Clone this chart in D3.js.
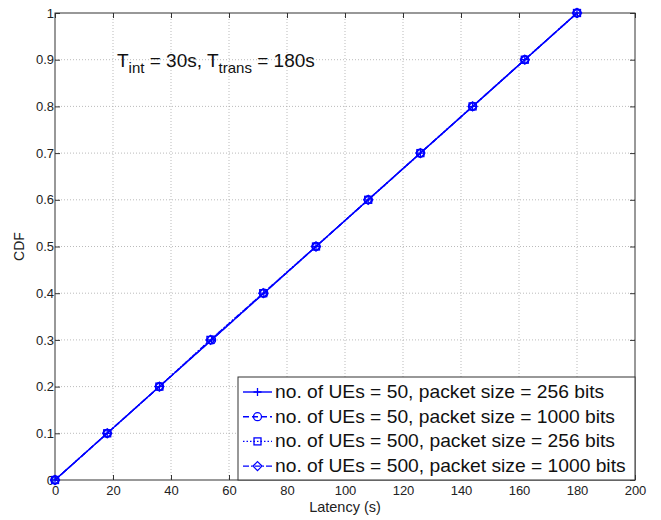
<!DOCTYPE html>
<html>
<head>
<meta charset="utf-8">
<script src="https://cdn.jsdelivr.net/npm/d3@7"></script>
<style>
body { margin: 0; background: #fff; }
text { font-family: Arial, "Liberation Sans", sans-serif; }
</style>
</head>
<body>
<svg id="chart" width="661" height="520"></svg>
<script>
// latency (s), one list per series
var latency50_256 = [0, 18, 36, 54, 72, 90, 108, 126, 144, 162, 180];
var latency50_1000 = [0, 18, 36, 54, 72, 90, 108, 126, 144, 162, 180];
var latency500_256 = [0, 18, 36, 53.6, 71.8, 90, 108, 126, 144, 162, 180];
var latency500_1000 = [0, 18, 36, 53.6, 71.8, 90, 108, 126, 144, 162, 180];
var cdf = [0, 0.1, 0.2, 0.3, 0.4, 0.5, 0.6, 0.7, 0.8, 0.9, 1];

var seriesNames = [
	"no. of UEs = 50, packet size = 256 bits",
	"no. of UEs = 50, packet size = 1000 bits",
	"no. of UEs = 500, packet size = 256 bits",
	"no. of UEs = 500, packet size = 1000 bits"
];
var xTicks = [0, 20, 40, 60, 80, 100, 120, 140, 160, 180, 200];
var yTicks = [0, 0.1, 0.2, 0.3, 0.4, 0.5, 0.6, 0.7, 0.8, 0.9, 1];

var blue = "#0000ff";
var dashes = [null, "6,3", "1.5,2", "6,2,1.5,2"];
var markers = ["plus", "circle", "square", "diamond"];

var svg = d3.select("#chart");
var plotL = 55, plotR = 635, plotT = 13, plotB = 480;

var x = d3.scaleLinear().domain([0, 200]).range([plotL, plotR]);
var y = d3.scaleLinear().domain([0, 1]).range([plotB, plotT]);

// grid
var grid = svg.append("g");
grid.selectAll("line.gx")
	.data(xTicks.slice(1, -1))
	.enter().append("line")
	.attr("x1", function(d) { return x(d); })
	.attr("x2", function(d) { return x(d); })
	.attr("y1", plotT).attr("y2", plotB)
	.style("stroke", "#aaa").style("stroke-width", 0.8)
	.style("stroke-dasharray", "1,2");
grid.selectAll("line.gy")
	.data(yTicks.slice(1, -1))
	.enter().append("line")
	.attr("y1", function(d) { return y(d); })
	.attr("y2", function(d) { return y(d); })
	.attr("x1", plotL).attr("x2", plotR)
	.style("stroke", "#aaa").style("stroke-width", 0.8)
	.style("stroke-dasharray", "1,2");

// axes with inward ticks
var fmt = function(d) { return d3.format("")(d); };
var xAxis = svg.append("g").attr("transform", "translate(0," + plotB + ")")
	.call(d3.axisBottom(x).tickValues(xTicks).tickSize(-5).tickPadding(4).tickFormat(fmt));
var xAxisTop = svg.append("g").attr("transform", "translate(0," + plotT + ")")
	.call(d3.axisTop(x).tickValues(xTicks).tickSize(-5).tickFormat(""));
var yAxis = svg.append("g").attr("transform", "translate(" + plotL + ",0)")
	.call(d3.axisLeft(y).tickValues(yTicks).tickSize(-5).tickPadding(1).tickFormat(fmt));
var yAxisRight = svg.append("g").attr("transform", "translate(" + plotR + ",0)")
	.call(d3.axisRight(y).tickValues(yTicks).tickSize(-5).tickFormat(""));

[xAxis, xAxisTop, yAxis, yAxisRight].forEach(function(a) {
	a.select(".domain").remove();
	a.selectAll(".tick line").style("stroke", "#333");
	a.selectAll("text").style("font-size", "13px").style("fill", "#222")
		.style("font-family", "Arial, 'Liberation Sans', sans-serif");
});
xAxis.selectAll("text").attr("dy", "0.85em");

svg.append("rect")
	.attr("x", plotL).attr("y", plotT)
	.attr("width", plotR - plotL).attr("height", plotB - plotT)
	.style("fill", "none").style("stroke", "#333").style("stroke-width", 1);

// labels
svg.append("text").attr("x", x(100)).attr("y", 512)
	.attr("text-anchor", "middle").style("font-size", "14.5px").style("fill", "#222")
	.text("Latency (s)");
svg.append("text")
	.attr("transform", "translate(24," + y(0.5) + ") rotate(-90)")
	.attr("text-anchor", "middle").style("font-size", "14px").style("fill", "#222")
	.text("CDF");

var note = svg.append("text").attr("x", 117).attr("y", 67)
	.style("font-size", "19px").style("fill", "#111");
note.append("tspan").text("T");
note.append("tspan").attr("dy", 6).style("font-size", "15px").text("int");
note.append("tspan").attr("dy", -6).text(" = 30s, T");
note.append("tspan").attr("dy", 6).style("font-size", "15px").text("trans");
note.append("tspan").attr("dy", -6).text(" = 180s");

// series
var allLatency = [latency50_256, latency50_1000, latency500_256, latency500_1000];
var series = allLatency.map(function(lat, i) {
	return { name: seriesNames[i], points: lat.map(function(v, j) { return [v, cdf[j]]; }) };
});

var line = d3.line().x(function(d) { return x(d[0]); }).y(function(d) { return y(d[1]); });

function drawMarker(g, kind, cx, cy) {
	if (kind === "plus") {
		g.append("path").attr("d", "M" + (cx - 4) + "," + cy + "H" + (cx + 4) + "M" + cx + "," + (cy - 4) + "V" + (cy + 4))
			.style("stroke", blue).style("stroke-width", 1.3).style("fill", "none");
	} else if (kind === "circle") {
		g.append("circle").attr("cx", cx).attr("cy", cy).attr("r", 4)
			.style("stroke", blue).style("stroke-width", 1.3).style("fill", "none");
	} else if (kind === "square") {
		g.append("rect").attr("x", cx - 3.5).attr("y", cy - 3.5).attr("width", 7).attr("height", 7)
			.style("stroke", blue).style("stroke-width", 1.3).style("fill", "none");
	} else {
		g.append("path").attr("d", "M" + cx + "," + (cy - 4.5) + "L" + (cx + 4.5) + "," + cy + "L" + cx + "," + (cy + 4.5) + "L" + (cx - 4.5) + "," + cy + "Z")
			.style("stroke", blue).style("stroke-width", 1.3).style("fill", "none");
	}
}

series.forEach(function(s, i) {
	var g = svg.append("g");
	g.append("path").datum(s.points).attr("d", line)
		.style("fill", "none").style("stroke", blue).style("stroke-width", 1.4)
		.style("stroke-dasharray", dashes[i]);
	s.points.forEach(function(p) { drawMarker(g, markers[i], x(p[0]), y(p[1])); });
});

// legend
var lg = svg.append("g");
lg.append("rect").attr("x", 238).attr("y", 377).attr("width", 397).attr("height", 103)
	.style("fill", "#fff").style("stroke", "#333").style("stroke-width", 1);
series.forEach(function(s, i) {
	var ly = 392 + i * 24.7;
	lg.append("line").attr("x1", 243).attr("x2", 272).attr("y1", ly).attr("y2", ly)
		.style("stroke", blue).style("stroke-width", 1.4).style("stroke-dasharray", dashes[i]);
	drawMarker(lg, markers[i], 257.5, ly);
	lg.append("text").attr("transform", "translate(275," + (ly + 6) + ") scale(1.1,1)")
		.style("font-size", "17.5px").style("fill", "#111").text(s.name);
});
</script>
</body>
</html>
